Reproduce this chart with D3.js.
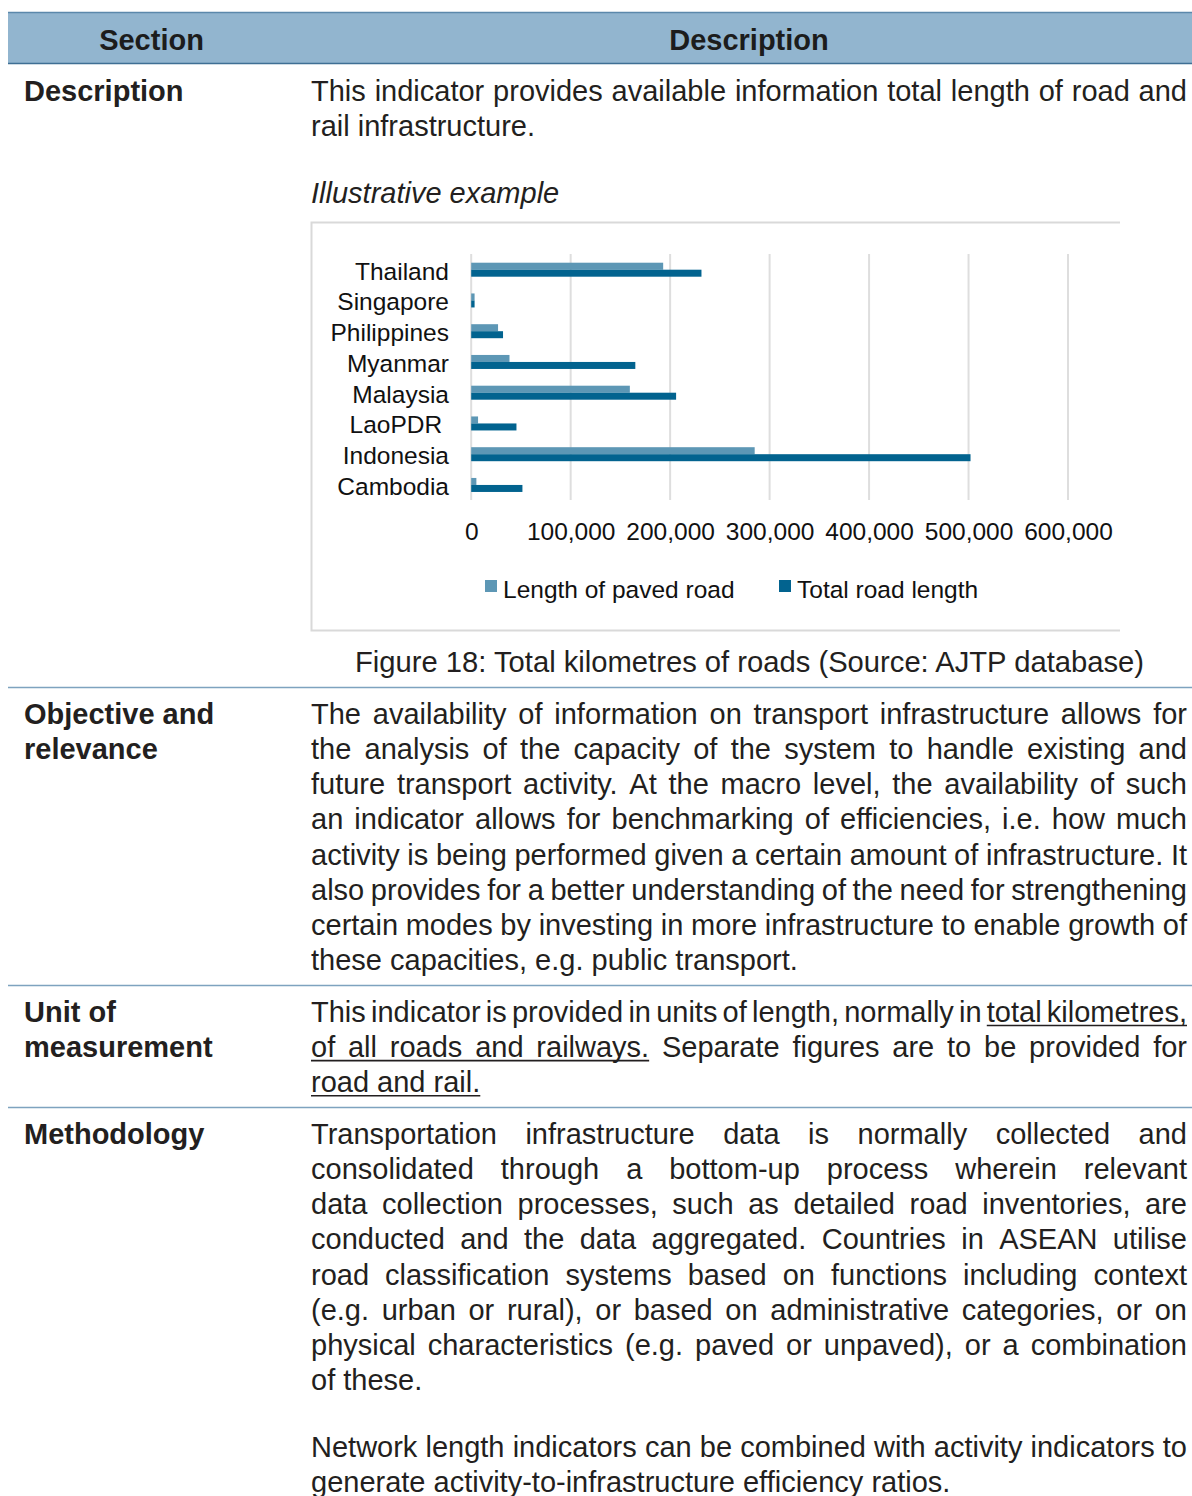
<!DOCTYPE html>
<html><head><meta charset="utf-8">
<script src="https://cdn.jsdelivr.net/npm/d3@7"></script>
<style>
html,body{margin:0;padding:0;background:#fff;}
svg{display:block;font-family:"Liberation Sans",Arial,sans-serif;}
</style></head>
<body>
<script>
// ---------- DATA ----------
const categories = ["Thailand","Singapore","Philippines","Myanmar","Malaysia","LaoPDR ","Indonesia","Cambodia"];
const pavedRoad  = [193000, 3400, 27000, 38500, 159500, 6900, 285000, 5200];
const totalRoad  = [231500, 3400, 32000, 165000, 206000, 45500, 502000, 51500];
const seriesNames = ["Length of paved road","Total road length"];
const xTicks = [0,100000,200000,300000,400000,500000,600000];

const headerLabels = ["Section","Description"];
const rowLabels = [["Description"],["Objective and","relevance"],["Unit of","measurement"],["Methodology"]];
const descLines = ["This indicator provides available information total length of road and","rail infrastructure."];
const objLines = [
 "The availability of information on transport infrastructure allows for",
 "the analysis of the capacity of the system to handle existing and",
 "future transport activity. At the macro level, the availability of such",
 "an indicator allows for benchmarking of efficiencies, i.e. how much",
 "activity is being performed given a certain amount of infrastructure. It",
 "also provides for a better understanding of the need for strengthening",
 "certain modes by investing in more infrastructure to enable growth of",
 "these capacities, e.g. public transport."];
const unitLines = [
 "This indicator is provided in units of length, normally in total kilometres,",
 "of all roads and railways. Separate figures are to be provided for",
 "road and rail."];
const unitUnderlines = [[10,11],[0,4],[0,2]];
const methLines = [
 "Transportation infrastructure data is normally collected and",
 "consolidated through a bottom-up process wherein relevant",
 "data collection processes, such as detailed road inventories, are",
 "conducted and the data aggregated. Countries in ASEAN utilise",
 "road classification systems based on functions including context",
 "(e.g. urban or rural), or based on administrative categories, or on",
 "physical characteristics (e.g. paved or unpaved), or a combination",
 "of these."];
const methLines2 = [
 "Network length indicators can be combined with activity indicators to",
 "generate activity-to-infrastructure efficiency ratios."];
const exampleTitle = "Illustrative example";
const captionText = "Figure 18: Total kilometres of roads (Source: AJTP database)";

// ---------- DRAW ----------
const W = 1192, H = 1496;
const TXT = "#231f20";
const FS = 29, LH = 35.15;
const svg = d3.select("body").append("svg").attr("width", W).attr("height", H);

// header
svg.append("rect").attr("x",8).attr("y",12).attr("width",W-8).attr("height",52).attr("fill","#92b5cf");
svg.append("line").attr("x1",8).attr("x2",W).attr("y1",12.5).attr("y2",12.5).attr("stroke","#5b88ab").attr("stroke-width",1.5);
svg.append("line").attr("x1",8).attr("x2",W).attr("y1",63.5).attr("y2",63.5).attr("stroke","#3f6f94").attr("stroke-width",1.5);
svg.selectAll("text.hdr").data(headerLabels).join("text").attr("class","hdr")
  .attr("x",(d,i)=> i===0 ? 151.5 : 749).attr("y",49.5).attr("text-anchor","middle")
  .attr("font-weight","bold").attr("font-size",FS).attr("fill","#1c1c1c").text(d=>d);

// row separators
[687.5, 985.5, 1107.5].forEach(y=>{
  svg.append("line").attr("x1",8).attr("x2",W).attr("y1",y).attr("y2",y).attr("stroke","#7ea3bf").attr("stroke-width",1.5);
});

// row labels
const labelBase = [101, 724, 1022, 1144];
rowLabels.forEach((ls,r)=>{
  ls.forEach((t,i)=>{
    svg.append("text").attr("x",24).attr("y",labelBase[r]+i*LH).attr("font-weight","bold")
      .attr("font-size",FS).attr("fill",TXT).text(t);
  });
});

// paragraph drawing with justification
const TX = 311, TW = 876;
function para(lines, y0, underlines){
  lines.forEach((line,li)=>{
    const y = y0 + li*LH;
    const justify = li < lines.length-1;
    const words = line.split(" ");
    const g = svg.append("g");
    const nodes = words.map(w=> g.append("text").attr("y",y).attr("font-size",FS).attr("fill",TXT).text(w));
    const widths = nodes.map(n=> n.node().getComputedTextLength());
    const sum = d3.sum(widths);
    const normalGap = 0.278*FS;
    let gap = normalGap, scale = 1;
    if (justify && words.length>1){
      gap = (TW - sum)/(words.length-1);
      const minGap = 0.12*FS;
      if (gap < minGap){ gap = minGap; scale = (TW - minGap*(words.length-1))/sum; }
    }
    let x = TX; const xs=[], xe=[];
    nodes.forEach((n,i)=>{
      const w = widths[i]*scale;
      n.attr("x",x);
      if (scale!==1) n.attr("textLength",w).attr("lengthAdjust","spacingAndGlyphs");
      xs.push(x); xe.push(x+w);
      x += w + gap;
    });
    if (underlines && underlines[li]){
      const [a,b] = underlines[li];
      g.append("line").attr("x1",xs[a]).attr("x2",xe[b]).attr("y1",y+3.5).attr("y2",y+3.5)
        .attr("stroke",TXT).attr("stroke-width",1.6);
    }
  });
}
para(descLines, 101);
para(objLines, 724);
para(unitLines, 1022, unitUnderlines);
para(methLines, 1144);
para(methLines2, 1457);

svg.append("text").attr("x",TX).attr("y",203).attr("font-size",FS).attr("font-style","italic")
  .attr("fill",TXT).text(exampleTitle);
svg.append("text").attr("x",749.5).attr("y",672).attr("font-size",29.2).attr("text-anchor","middle")
  .attr("fill",TXT).text(captionText);

// chart frame
svg.append("path").attr("d","M1120,222.5 H311.5 V630.5 H1120").attr("fill","none")
  .attr("stroke","#d9d9d9").attr("stroke-width",2);

// chart
const CFS = 24.5;
const x = d3.scaleLinear().domain([0,600000]).range([471.2,1068]);
const y = d3.scaleBand().domain(categories).range([254,500]);
const y1 = d3.scaleBand().domain(seriesNames).range([y.bandwidth()*0.283, y.bandwidth()*0.283+14]);
const colors = d3.scaleOrdinal().domain(seriesNames).range(["#5d97b5","#02638f"]);

const chart = svg.append("g");
chart.selectAll("line.grid").data(xTicks).join("line").attr("class","grid")
  .attr("x1",d=>x(d)).attr("x2",d=>x(d)).attr("y1",254).attr("y2",500)
  .attr("stroke","#dedede").attr("stroke-width",2);

const rows = categories.map((c,i)=>({c, vals:[pavedRoad[i], totalRoad[i]]}));
const grp = chart.selectAll("g.cat").data(rows).join("g").attr("class","cat")
  .attr("transform",d=>`translate(0,${y(d.c)})`);
grp.selectAll("rect").data(d=>d.vals.map((v,k)=>({s:seriesNames[k],v}))).join("rect")
  .attr("x",x(0)).attr("y",d=>y1(d.s)).attr("height",y1.bandwidth())
  .attr("width",d=>x(d.v)-x(0)).attr("fill",d=>colors(d.s));

chart.selectAll("text.cat").data(categories).join("text").attr("class","cat")
  .attr("x",449).attr("y",d=>y(d)+y.bandwidth()/2).attr("dy","0.42em")
  .attr("text-anchor","end").attr("font-size",CFS).attr("fill","#111")
  .style("white-space","pre").text(d=>d);

const ax = chart.append("g").attr("transform","translate(0,500)")
  .call(d3.axisBottom(x).tickValues(xTicks).tickFormat(d3.format(",")).tickSize(0));
ax.select(".domain").remove();
ax.selectAll("text").attr("y",40).attr("dy",0).attr("font-size",CFS)
  .attr("font-family","Liberation Sans, Arial, sans-serif").attr("fill","#111");

// legend
const legX = [485, 779];
const leg = chart.selectAll("g.leg").data(seriesNames).join("g").attr("class","leg")
  .attr("transform",(d,i)=>`translate(${legX[i]},580)`);
leg.append("rect").attr("width",12).attr("height",12).attr("fill",d=>colors(d));
leg.append("text").attr("x",18).attr("y",18).attr("font-size",CFS).attr("fill","#111").text(d=>d);
</script>
</body></html>
